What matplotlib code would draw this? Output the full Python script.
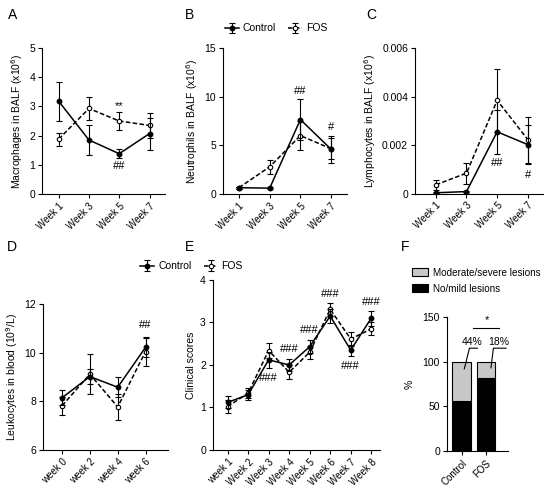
import numpy as np
import matplotlib
matplotlib.use("Agg")
import matplotlib.pyplot as plt
from matplotlib.patches import Patch

plt.rcParams.update({
    "font.family": ["Liberation Sans", "DejaVu Sans"],
    "font.size": 7,
    "axes.linewidth": 0.8,
    "axes.labelsize": 7.5,
    "xtick.major.size": 3, "ytick.major.size": 3,
    "xtick.major.width": 0.8, "ytick.major.width": 0.8,
    "xtick.labelsize": 7, "ytick.labelsize": 7.5,
})

# ---- data ----
weeks_bal = ["Week 1", "Week 3", "Week 5", "Week 7"]

mac_ctrl = [3.18, 1.85, 1.38, 2.07]
mac_ctrl_err = [0.67, 0.50, 0.15, 0.55]
mac_fos = [1.88, 2.93, 2.50, 2.35]
mac_fos_err = [0.22, 0.40, 0.30, 0.42]

neu_ctrl = [0.65, 0.60, 7.65, 4.60]
neu_ctrl_err = [0.10, 0.10, 2.10, 1.40]
neu_fos = [0.65, 2.80, 6.00, 4.65]
neu_fos_err = [0.10, 0.72, 1.50, 1.10]

lym_ctrl = [0.00003, 0.00008, 0.00255, 0.00202]
lym_ctrl_err = [0.00002, 0.00003, 0.00090, 0.00080]
lym_fos = [0.00036, 0.00084, 0.00385, 0.00223]
lym_fos_err = [0.00020, 0.00043, 0.00130, 0.00095]

weeks_blood = ["week 0", "week 2", "week 4", "week 6"]
leu_ctrl = [8.15, 9.02, 8.58, 10.22]
leu_ctrl_err = [0.30, 0.30, 0.42, 0.40]
leu_fos = [7.82, 9.12, 7.77, 10.05]
leu_fos_err = [0.37, 0.82, 0.55, 0.60]

weeks_clin = ["week 1", "Week 2", "Week 3", "Week 4", "Week 5", "Week 6", "Week 7", "Week 8"]
clin_ctrl = [1.12, 1.30, 2.12, 2.00, 2.43, 3.15, 2.35, 3.10]
clin_ctrl_err = [0.14, 0.12, 0.19, 0.15, 0.16, 0.17, 0.13, 0.18]
clin_fos = [1.02, 1.34, 2.34, 1.83, 2.30, 3.31, 2.61, 2.85]
clin_fos_err = [0.15, 0.12, 0.18, 0.16, 0.15, 0.15, 0.16, 0.15]

groups = ["Control", "FOS"]
mild = [56, 82]
severe = [44, 18]

GRAY = "#c8c8c8"


def style(ax):
    for s in ("top", "right"):
        ax.spines[s].set_visible(False)
    ax.tick_params(direction="out", pad=2)


def lines(ax, cats, c, ce, f, fe):
    x = np.arange(len(cats))
    kw = dict(capsize=2.2, elinewidth=0.8, capthick=0.8, ecolor="black", lw=1.1)
    hf = ax.errorbar(x, f, yerr=fe, fmt="o", ls=(0, (3, 1.5)), color="black",
                     mfc="white", mec="black", ms=3.2, mew=0.8, zorder=3, **kw)
    hc = ax.errorbar(x, c, yerr=ce, fmt="o", ls="-", color="black",
                     mfc="black", mec="black", ms=3.2, zorder=4, **kw)
    ax.set_xticks(x)
    ax.set_xticklabels(cats, rotation=45, ha="right", rotation_mode="anchor")
    return hc, hf


fig = plt.figure(figsize=(5.5, 4.93), dpi=100)

# A
axA = fig.add_axes([0.0764, 0.6065, 0.223, 0.296])
style(axA)
hc, hf = lines(axA, weeks_bal, mac_ctrl, mac_ctrl_err, mac_fos, mac_fos_err)
axA.set_xlim(-0.55, 3.5)
axA.set_ylim(0, 5)
axA.set_yticks(range(6))
axA.set_ylabel("Macrophages in BALF (x10$^6$)", labelpad=3)
axA.text(2, 3.0, "**", ha="center", va="center", fontsize=8)
axA.text(2, 0.95, "##", ha="center", va="center", fontsize=8)

# B
axB = fig.add_axes([0.4055, 0.6065, 0.2255, 0.296])
style(axB)
hc, hf = lines(axB, weeks_bal, neu_ctrl, neu_ctrl_err, neu_fos, neu_fos_err)
axB.set_xlim(-0.52, 3.52)
axB.set_ylim(0, 15)
axB.set_yticks([0, 5, 10, 15])
axB.set_ylabel("Neutrophils in BALF (x10$^6$)", labelpad=3)
axB.text(2, 10.6, "##", ha="center", va="center", fontsize=8)
axB.text(3, 6.9, "#", ha="center", va="center", fontsize=8)
axB.legend([hc, hf], groups, ncol=2, frameon=False, loc="center left",
           bbox_to_anchor=(-0.06, 1.135), handlelength=1.3, handletextpad=0.4,
           columnspacing=1.2, fontsize=7.5)

# C
axC = fig.add_axes([0.7545, 0.6075, 0.233, 0.2945])
style(axC)
lines(axC, weeks_bal, lym_ctrl, lym_ctrl_err, lym_fos, lym_fos_err)
axC.set_xlim(-0.68, 3.5)
axC.set_ylim(0, 0.006)
axC.set_yticks([0, 0.002, 0.004, 0.006])
axC.set_yticklabels(["0", "0.002", "0.004", "0.006"])
axC.set_ylabel("Lymphocytes in BALF (x10$^6$)", labelpad=3)
axC.text(2, 0.00126, "##", ha="center", va="center", fontsize=8)
axC.text(3, 0.00078, "#", ha="center", va="center", fontsize=8)

# D
axD = fig.add_axes([0.078, 0.0872, 0.227, 0.296])
style(axD)
lines(axD, weeks_blood, leu_ctrl, leu_ctrl_err, leu_fos, leu_fos_err)
axD.set_xlim(-0.69, 3.8)
axD.set_ylim(6, 12)
axD.set_yticks([6, 8, 10, 12])
axD.set_ylabel("Leukocytes in blood (10$^9$/L)", labelpad=3)
axD.text(3, 11.15, "##", ha="center", va="center", fontsize=8)

# E
axE = fig.add_axes([0.387, 0.0872, 0.304, 0.345])
style(axE)
hc, hf = lines(axE, weeks_clin, clin_ctrl, clin_ctrl_err, clin_fos, clin_fos_err)
axE.set_xlim(-0.72, 7.43)
axE.set_ylim(0, 4)
axE.set_yticks(range(5))
axE.set_ylabel("Clinical scores", labelpad=3)
for xi, yi in [(2, 1.69), (3, 2.37), (4, 2.83), (5, 3.66), (6, 1.98), (7, 3.49)]:
    axE.text(xi, yi, "###", ha="center", va="center", fontsize=8)
axE.legend([hc, hf], groups, ncol=2, frameon=False, loc="center left",
           bbox_to_anchor=(-0.49, 1.08), handlelength=1.3, handletextpad=0.4,
           columnspacing=1.2, fontsize=7.5)

# F
axF = fig.add_axes([0.8127, 0.0852, 0.111, 0.272])
style(axF)
xg = np.arange(len(groups))
axF.bar(xg, mild, 0.77, color="black", edgecolor="black", lw=0.8)
axF.bar(xg, severe, 0.77, bottom=mild, color=GRAY, edgecolor="black", lw=0.8)
axF.set_xlim(-0.6, 1.9)
axF.set_ylim(0, 150)
axF.set_yticks([0, 50, 100, 150])
axF.set_xticks(xg)
axF.set_xticklabels(groups, rotation=45, ha="right", rotation_mode="anchor")
axF.set_ylabel("%", labelpad=6)
axF.plot([0.48, 1.55], [138, 138], color="black", lw=0.8, clip_on=False)
axF.text(1.02, 146, "*", ha="center", va="center", fontsize=8)
for tx, txt, seg in [(0.42, f"{severe[0]}%", [(0.64, 115), (0.32, 115), (0.11, 92)]),
                     (1.52, f"{severe[1]}%", [(1.82, 115), (1.3, 115), (1.2, 93)])]:
    axF.text(tx, 122, txt, ha="center", va="center", fontsize=7.5)
    axF.plot([p[0] for p in seg], [p[1] for p in seg], color="black", lw=0.8,
             clip_on=False)
fig.legend([Patch(facecolor=GRAY, edgecolor="black", lw=0.8),
            Patch(facecolor="black", edgecolor="black", lw=0.8)],
           ["Moderate/severe lesions", "No/mild lesions"],
           loc="upper left", bbox_to_anchor=(0.742, 0.465), frameon=False,
           fontsize=7.1, handlelength=1.6, handleheight=0.9, labelspacing=0.6,
           handletextpad=0.5, borderaxespad=0)

# panel letters
for x, y, s in [(13, 15, "A"), (190, 15, "B"), (371, 15, "C"),
                (12, 247, "D"), (190, 247, "E"), (405, 247, "F")]:
    fig.text(x / 550, 1 - y / 493, s, fontsize=10, ha="center", va="center")

fig.savefig("out.png", dpi=100, facecolor="white")
